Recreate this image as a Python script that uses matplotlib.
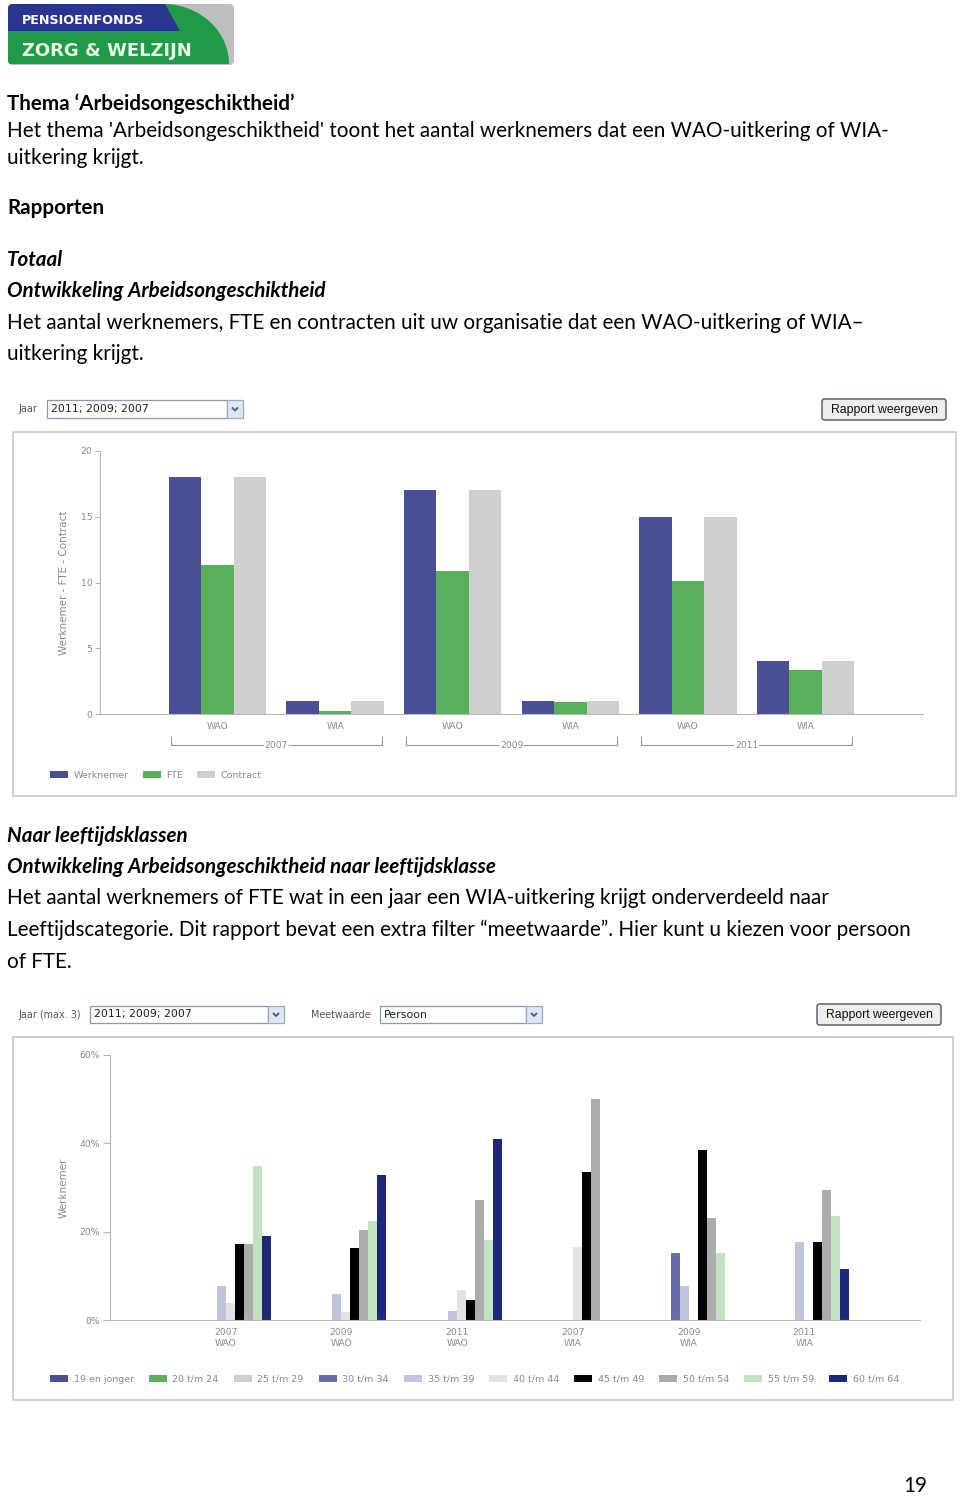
import matplotlib
matplotlib.use('Agg')
import matplotlib.pyplot as plt
from matplotlib.patches import Rectangle, FancyBboxPatch, Polygon
import numpy as np

W, H = 960, 1497

# ---------------- data ----------------
years = ['2007', '2009', '2011']
types1 = ['WAO', 'WIA', 'WAO', 'WIA', 'WAO', 'WIA']
series1 = ['Werknemer', 'FTE', 'Contract']
werknemer = [18, 1, 17, 1, 15, 4]
fte = [11.3, 0.2, 10.9, 0.9, 10.1, 3.35]
contract = [18, 1, 17, 1, 15, 4]
y1_ticks = [0, 5, 10, 15, 20]

cats2_year = ['2007', '2009', '2011', '2007', '2009', '2011']
cats2_type = ['WAO', 'WAO', 'WAO', 'WIA', 'WIA', 'WIA']
age_classes = ['19 en jonger', '20 t/m 24', '25 t/m 29', '30 t/m 34', '35 t/m 39',
               '40 t/m 44', '45 t/m 49', '50 t/m 54', '55 t/m 59', '60 t/m 64']
age_19 = [0, 0, 0, 0, 0, 0]
age_20_24 = [0, 0, 0, 0, 0, 0]
age_25_29 = [0, 0, 0, 0, 0, 0]
age_30_34 = [0, 0, 0, 0, 15.1, 0]
age_35_39 = [7.6, 6.0, 2.0, 0, 7.6, 17.6]
age_40_44 = [3.8, 1.7, 6.8, 16.5, 0, 0]
age_45_49 = [17.3, 16.3, 4.5, 33.4, 38.4, 17.6]
age_50_54 = [17.3, 20.3, 27.2, 50.0, 23.1, 29.4]
age_55_59 = [34.8, 22.5, 18.2, 0, 15.1, 23.6]
age_60_64 = [19.1, 32.8, 40.9, 0, 0, 11.6]
y2_ticks = [0, 20, 40, 60]
y2_labels = ['0%', '20%', '40%', '60%']

# ---------------- styles ----------------
col1 = ['#4a4e93', '#5bae5c', '#cfcfcf']
col2 = ['#4a4e93', '#5bae5c', '#cfcfcf', '#686ca8', '#c0c4de', '#e3e3e3',
        '#000000', '#acacac', '#c2e3c2', '#1e2778']
grey_txt = '#8a8a8a'
axis_col = '#b8b8b8'
BODY = 'Lato'
CH = 'DejaVu Sans'

fig = plt.figure(figsize=(W / 100, H / 100), dpi=100)
fig.patch.set_facecolor('white')
bg = fig.add_axes([0, 0, 1, 1])
bg.set_xlim(0, W)
bg.set_ylim(H, 0)
bg.axis('off')
bg.set_zorder(0)

renderer = fig.canvas.get_renderer()


def fit_size(text, target, **kw):
    t = bg.text(0, 0, text, fontsize=10, **kw)
    w = t.get_window_extent(renderer).width
    t.remove()
    return 10.0 * target / w


def rect(x0, y0, x1, y1):
    return [x0 / W, 1 - y1 / H, (x1 - x0) / W, (y1 - y0) / H]


# ---------------- logo ----------------
bg.add_patch(FancyBboxPatch((8, 4), 226, 61, boxstyle='round,pad=0,rounding_size=5',
                            fc='#bcbfbf', ec='none'))
t = np.linspace(0, np.pi / 2, 40)
cx = 163 + 66 * np.sin(t)
cy = 64 - 60 * np.cos(t)
green_pts = [(8, 64)] + [(8, 4)] + list(zip(cx, cy)) + [(229, 64)]
gp = Polygon(green_pts, closed=True, fc='#1f9a48', ec='none')
bg.add_patch(gp)
bp = Polygon([(8, 4), (165, 4), (180, 31), (8, 31)], closed=True, fc='#2a3592', ec='none')
bg.add_patch(bp)
clip = FancyBboxPatch((8, 4), 226, 61, boxstyle='round,pad=0,rounding_size=5',
                      fc='none', ec='none', transform=bg.transData)
bg.add_patch(clip)
gp.set_clip_path(clip)
bp.set_clip_path(clip)
fs = fit_size('PENSIOENFONDS', 123, family='DejaVu Sans', weight='bold')
bg.text(22, 24, 'PENSIOENFONDS', fontsize=fs, family='DejaVu Sans', weight='bold',
        color='white', va='baseline')
fs = fit_size('ZORG & WELZIJN', 171, family='DejaVu Sans', weight='bold')
bg.text(22, 56, 'ZORG & WELZIJN', fontsize=fs, family='DejaVu Sans', weight='bold',
        color='#e6f7e6', va='baseline')

# ---------------- body text ----------------
body_fs = fit_size("Het thema 'Arbeidsongeschiktheid' toont het aantal werknemers dat een WAO-uitkering of WIA-",
                   880, family=BODY)
lines = [
    (110, 'Thema ‘Arbeidsongeschiktheid’', 'bold', 'normal'),
    (137, "Het thema 'Arbeidsongeschiktheid' toont het aantal werknemers dat een WAO-uitkering of WIA-", 'normal', 'normal'),
    (164, 'uitkering krijgt.', 'normal', 'normal'),
    (214, 'Rapporten', 'bold', 'normal'),
    (266, 'Totaal', 'bold', 'italic'),
    (297, 'Ontwikkeling Arbeidsongeschiktheid', 'bold', 'italic'),
    (329, 'Het aantal werknemers, FTE en contracten uit uw organisatie dat een WAO-uitkering of WIA–', 'normal', 'normal'),
    (360, 'uitkering krijgt.', 'normal', 'normal'),
    (842, 'Naar leeftijdsklassen', 'bold', 'italic'),
    (873, 'Ontwikkeling Arbeidsongeschiktheid naar leeftijdsklasse', 'bold', 'italic'),
    (904, 'Het aantal werknemers of FTE wat in een jaar een WIA-uitkering krijgt onderverdeeld naar', 'normal', 'normal'),
    (936, 'Leeftijdscategorie. Dit rapport bevat een extra filter “meetwaarde”. Hier kunt u kiezen voor persoon', 'normal', 'normal'),
    (968, 'of FTE.', 'normal', 'normal'),
]
for y, s, w, st in lines:
    bg.text(7, y, s, fontsize=body_fs, family=BODY, weight=w, style=st,
            color='black', va='baseline', ha='left')

bg.text(915, 1492, '19', fontsize=body_fs, family=BODY, color='black',
        va='baseline', ha='center')


# ---------------- controls ----------------
def dropdown(x0, x1, y0, y1, text):
    bg.add_patch(Rectangle((x0, y0), x1 - x0, y1 - y0, fc='white', ec='#7f9db9', lw=0.9))
    bg.text(x0 + 4, (y0 + y1) / 2, text, fontsize=7.9, family=CH, color='#222',
            va='center', ha='left')
    bx0 = x1
    bg.add_patch(Rectangle((bx0, y0), 16, y1 - y0, fc='#dfe6f2', ec='#9aaac4', lw=0.9))
    mx, my = bx0 + 8, (y0 + y1) / 2
    bg.plot([mx - 3, mx, mx + 3], [my - 1.5, my + 1.5, my - 1.5], color='#4d6185', lw=1.4,
            solid_capstyle='butt')


def button(x0, x1, y0, y1):
    bg.add_patch(FancyBboxPatch((x0, y0), x1 - x0, y1 - y0,
                                boxstyle='round,pad=0,rounding_size=2.5',
                                fc='#eeeeee', ec='#4f5660', lw=1.0))
    bg.text((x0 + x1) / 2, (y0 + y1) / 2 + 0.5, 'Rapport weergeven', fontsize=8.8,
            family='Liberation Sans', color='#111', va='center', ha='center')


bg.text(18, 409.5, 'Jaar', fontsize=6.9, family=CH, color='#555', va='center')
dropdown(47, 227, 400, 418, '2011; 2009; 2007')
button(822, 946, 399, 420)

bg.text(18, 1014.5, 'Jaar (max. 3)', fontsize=6.9, family=CH, color='#555', va='center')
dropdown(90, 268, 1006, 1023, '2011; 2009; 2007')
bg.text(311, 1014.5, 'Meetwaarde', fontsize=6.9, family=CH, color='#555', va='center')
dropdown(380, 526, 1006, 1023, 'Persoon')
button(817, 941, 1004, 1025)

# chart frames
bg.add_patch(Rectangle((13, 432), 943, 364, fc='none', ec='#c9c9c9', lw=1.2))
bg.add_patch(Rectangle((13, 1037), 940, 363, fc='none', ec='#c9c9c9', lw=1.2))


# ---------------- chart 1 ----------------
def style_axes(ax):
    for s in ['top', 'right']:
        ax.spines[s].set_visible(False)
    ax.spines['left'].set_color(axis_col)
    ax.spines['bottom'].set_color(axis_col)
    ax.tick_params(axis='y', direction='out', length=3.5, width=0.8, color=axis_col,
                   labelsize=6.7, labelcolor=grey_txt, pad=2)
    ax.tick_params(axis='x', length=0, labelsize=6.6, labelcolor=grey_txt)
    for lab in ax.get_yticklabels() + ax.get_xticklabels():
        lab.set_family(CH)
    ax.patch.set_alpha(0)


ax1 = fig.add_axes(rect(100, 451, 923, 714))
x1 = np.arange(1, len(types1) + 1)
bw1 = 0.276
for i, (vals, c, lab) in enumerate(zip([werknemer, fte, contract], col1, series1)):
    ax1.bar(x1 + (i - 1) * bw1, vals, width=bw1, color=c, label=lab, zorder=2)
ax1.set_xlim(0, 7)
ax1.set_ylim(0, 20)
ax1.set_yticks(y1_ticks)
ax1.set_xticks(x1)
ax1.set_xticklabels(types1)
style_axes(ax1)
ax1.tick_params(axis='x', pad=6)
ax1.set_ylabel('Werknemer - FTE - Contract', fontsize=7.5, color=grey_txt, family=CH)
ax1.yaxis.set_label_coords(-0.038, 0.5)

tr = ax1.get_xaxis_transform()
yb, yt = -0.119, -0.088
for k, yr in enumerate(years):
    a = x1[2 * k] - 0.4
    b = x1[2 * k + 1] + 0.4
    ax1.plot([a, a, b, b], [yt, yb, yb, yt], transform=tr, color='#9a9a9a', lw=0.8,
             clip_on=False)
    ax1.text((a + b) / 2, yb, yr, transform=tr, fontsize=6.6, family=CH, color=grey_txt,
             ha='center', va='center', clip_on=False,
             bbox=dict(fc='white', ec='none', pad=0.6))

leg1 = ax1.legend(loc='center left', bbox_to_anchor=(50 / W, 1 - 775.5 / H),
                  bbox_transform=fig.transFigure, ncol=3, frameon=False,
                  prop={'family': CH, 'size': 6.8}, handlelength=1.9, handleheight=0.72,
                  handletextpad=0.6, columnspacing=1.45, borderpad=0, borderaxespad=0)
for txt in leg1.get_texts():
    txt.set_color(grey_txt)

# ---------------- chart 2 ----------------
ax2 = fig.add_axes(rect(110, 1055, 920, 1320))
x2 = np.arange(1, len(cats2_year) + 1)
bw2 = 0.0778
age_vals = [age_19, age_20_24, age_25_29, age_30_34, age_35_39,
            age_40_44, age_45_49, age_50_54, age_55_59, age_60_64]
for i, (vals, c, lab) in enumerate(zip(age_vals, col2, age_classes)):
    ax2.bar(x2 + (i - 4.5) * bw2, vals, width=bw2, color=c, label=lab, zorder=2)
ax2.set_xlim(0, 7)
ax2.set_ylim(0, 60)
ax2.set_yticks(y2_ticks)
ax2.set_yticklabels(y2_labels)
ax2.set_xticks(x2)
ax2.set_xticklabels([f'{a}\n{b}' for a, b in zip(cats2_year, cats2_type)], linespacing=1.25)
style_axes(ax2)
ax2.tick_params(axis='y', length=5)
ax2.tick_params(axis='x', pad=6)
ax2.set_ylabel('Werknemer', fontsize=7.5, color=grey_txt, family=CH)
ax2.yaxis.set_label_coords(-0.051, 0.5)

leg2 = ax2.legend(loc='center left', bbox_to_anchor=(50 / W, 1 - 1379 / H),
                  bbox_transform=fig.transFigure, ncol=10, frameon=False,
                  prop={'family': CH, 'size': 6.8}, handlelength=1.9, handleheight=0.72,
                  handletextpad=0.6, columnspacing=1.6, borderpad=0, borderaxespad=0)
for txt in leg2.get_texts():
    txt.set_color(grey_txt)

fig.savefig('out.png', dpi=100, facecolor='white')
